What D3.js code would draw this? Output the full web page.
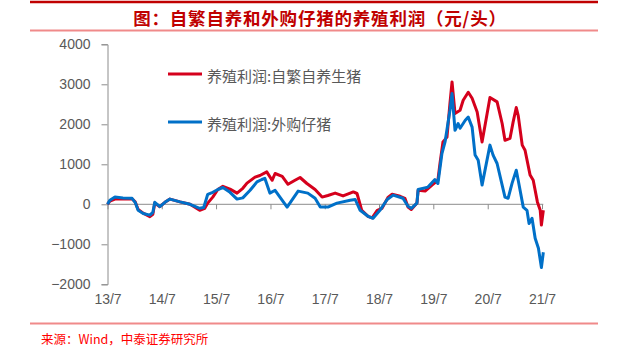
<!DOCTYPE html>
<html><head><meta charset="utf-8">
<script src="https://cdn.jsdelivr.net/npm/d3@7"></script>
<style>body{margin:0;background:#fff}svg{display:block}</style>
</head><body><svg id="c" width="627" height="358"></svg>
<script>
const title = "图：自繁自养和外购仔猪的养殖利润（元/头）";
const source = "来源：Wind，中泰证券研究所";
const seriesNames = ["养殖利润:自繁自养生猪", "养殖利润:外购仔猪"];
const yTicks = [-2000, -1000, 0, 1000, 2000, 3000, 4000];
const xTickDates = ["2013-07-01","2014-07-01","2015-07-01","2016-07-01","2017-07-01","2018-07-01","2019-07-01","2020-07-01","2021-07-01"];
const xTickLabels = ["13/7","14/7","15/7","16/7","17/7","18/7","19/7","20/7","21/7"];

const redDates = ["2013-07-01","2013-07-17","2013-08-20","2013-10-13","2013-12-13","2014-01-03","2014-01-23","2014-02-26","2014-04-12","2014-05-02","2014-05-15","2014-06-18","2014-07-22","2014-08-25","2014-11-01","2015-01-07","2015-03-13","2015-04-16","2015-05-06","2015-06-09","2015-07-13","2015-08-16","2015-10-03","2015-11-19","2015-12-28","2016-01-25","2016-03-19","2016-04-21","2016-06-06","2016-07-12","2016-08-01","2016-09-18","2016-10-27","2016-12-13","2017-01-16","2017-03-03","2017-04-27","2017-06-13","2017-07-22","2017-09-09","2017-11-01","2017-12-19","2018-01-09","2018-02-03","2018-03-07","2018-04-18","2018-05-16","2018-06-19","2018-07-21","2018-09-01","2018-09-27","2018-11-20","2018-12-22","2019-01-12","2019-02-03","2019-03-13","2019-03-21","2019-05-07","2019-06-22","2019-08-01","2019-08-15","2019-09-04","2019-10-01","2019-10-21","2019-11-04","2019-11-24","2019-12-28","2020-01-18","2020-02-21","2020-03-18","2020-04-21","2020-05-24","2020-06-19","2020-07-16","2020-09-02","2020-10-06","2020-10-25","2020-11-28","2020-12-19","2021-01-09","2021-01-22","2021-02-18","2021-03-09","2021-04-12","2021-05-03","2021-05-31","2021-06-19","2021-06-27","2021-07-10"];
const redValues = [0,80,130,130,140,60,-130,-220,-310,-250,30,-60,50,130,60,0,-150,-100,30,180,370,450,380,280,400,530,680,720,810,600,770,700,500,600,670,520,370,180,220,280,210,280,310,270,-150,-300,-340,-150,-100,180,250,200,150,-70,-130,30,350,330,480,600,1020,1560,1680,2520,3060,2270,2350,2600,2800,2650,2310,1560,2100,2670,2560,2020,1600,1650,2060,2420,2220,1480,1350,730,600,60,-150,-520,-150];

const blueDates = ["2013-07-01","2013-07-17","2013-08-20","2013-10-13","2013-12-13","2014-01-03","2014-01-23","2014-02-26","2014-04-12","2014-05-02","2014-05-15","2014-06-18","2014-07-22","2014-08-25","2014-11-01","2015-01-07","2015-03-13","2015-04-09","2015-04-24","2015-05-06","2015-06-09","2015-07-13","2015-08-16","2015-10-03","2015-11-19","2015-12-28","2016-02-15","2016-04-01","2016-05-04","2016-05-24","2016-06-27","2016-08-01","2016-10-21","2017-01-03","2017-03-09","2017-04-27","2017-06-01","2017-07-22","2017-09-21","2017-12-19","2018-01-22","2018-02-24","2018-04-18","2018-05-22","2018-07-07","2018-08-25","2018-10-04","2018-12-09","2019-01-12","2019-02-03","2019-03-13","2019-03-21","2019-05-26","2019-07-12","2019-08-01","2019-08-28","2019-09-18","2019-10-21","2019-11-04","2019-11-24","2019-12-15","2019-12-28","2020-02-01","2020-02-21","2020-03-18","2020-04-07","2020-04-28","2020-05-24","2020-07-16","2020-08-06","2020-09-02","2020-10-25","2020-11-15","2020-12-12","2021-01-09","2021-01-22","2021-02-25","2021-03-22","2021-04-05","2021-04-25","2021-05-16","2021-06-07","2021-06-27","2021-07-10"];
const blueValues = [0,100,180,160,150,50,-150,-230,-270,-200,50,-60,50,130,60,0,-100,-80,100,250,300,370,420,300,130,160,350,560,620,650,280,350,-70,330,280,150,-70,-70,30,100,120,-150,-300,-350,-150,120,230,150,-50,-100,30,370,430,620,520,1270,1560,2350,2770,1850,2020,1900,2100,2180,1930,1230,1100,480,1480,1230,1020,180,150,530,850,600,-70,-150,-480,-350,-850,-1100,-1580,-1200];

const svg = d3.select("#c");
const parse = d3.timeParse("%Y-%m-%d");
const x = d3.scaleTime().domain([parse("2013-07-01"), parse("2021-07-01")]).range([107.5, 542]);
const y = d3.scaleLinear().domain([-2000, 4000]).range([284.3, 44.3]);

// header / footer rules
svg.append("line").attr("x1",30).attr("x2",598).attr("y1",2).attr("y2",2).attr("stroke","#C00000").attr("stroke-width",2.5);
svg.append("line").attr("x1",30).attr("x2",598).attr("y1",30.5).attr("y2",30.5).attr("stroke","#F08A8A").attr("stroke-width",2);
svg.append("line").attr("x1",30).attr("x2",598).attr("y1",323.5).attr("y2",323.5).attr("stroke","#F08A8A").attr("stroke-width",2);

svg.append("text").attr("x",320).attr("y",17).attr("text-anchor","middle").attr("dominant-baseline","central")
  .attr("font-family","'Noto Sans CJK SC'").attr("font-weight","bold").attr("font-size","17.5px").attr("letter-spacing","0.8px").attr("fill","#C00000").text(title);
svg.append("text").attr("x",41).attr("y",338).attr("dominant-baseline","central")
  .attr("font-family","'Noto Sans CJK SC'").attr("font-size","12.5px").attr("fill","#FF0000").text(source);

const axisColor = "#8C8C8C", labelColor = "#595959";
// y axis
const ya = svg.append("g").attr("transform","translate(107.5,0)")
  .call(d3.axisLeft(y).tickValues(yTicks).tickSize(6).tickPadding(11).tickFormat(d3.format("d")));
ya.selectAll("path,line").attr("stroke",axisColor);
ya.selectAll("text").attr("fill",labelColor).attr("font-family","'Liberation Sans', Arial").attr("font-size","14px");

// x axis line at zero with ticks
const xd = xTickDates.map(parse);
const xa = svg.append("g").attr("transform",`translate(0,${y(0)})`)
  .call(d3.axisBottom(x).tickValues(xd).tickSize(5).tickSizeOuter(0).tickFormat(""));
xa.select(".domain").attr("d", `M107.5,0H${x(parse("2021-07-10"))}`);
xa.selectAll("path,line").attr("stroke",axisColor);
// x labels at bottom
const xl = svg.append("g").attr("transform","translate(0,294)")
  .call(d3.axisBottom(x).tickValues(xd).tickSize(0).tickPadding(0).tickFormat((d,i)=>xTickLabels[i]));
xl.select(".domain").remove();
xl.selectAll("text").attr("fill",labelColor).attr("font-family","'Liberation Sans', Arial").attr("font-size","14px");

const line = d3.line().x(d=>x(d[0])).y(d=>y(d[1]));
const red = redDates.map((d,i)=>[parse(d), redValues[i]]);
const blue = blueDates.map((d,i)=>[parse(d), blueValues[i]]);
const redColor = "#D5001C", blueColor = "#0070C8";
svg.append("path").datum(red).attr("d",line).attr("fill","none").attr("stroke",redColor).attr("stroke-width",3).attr("stroke-linejoin","round");
svg.append("path").datum(blue).attr("d",line).attr("fill","none").attr("stroke",blueColor).attr("stroke-width",3).attr("stroke-linejoin","round");

// legend
const leg = [[seriesNames[0], redColor, 74],[seriesNames[1], blueColor, 122]];
leg.forEach(([name,c,yy])=>{
  svg.append("line").attr("x1",168).attr("x2",202).attr("y1",yy).attr("y2",yy).attr("stroke",c).attr("stroke-width",3);
  svg.append("text").attr("x",207).attr("y",yy+1).attr("dominant-baseline","central")
    .attr("font-family","'Noto Sans CJK SC'").attr("font-size","15px").attr("fill",labelColor).text(name);
});
</script></body></html>
